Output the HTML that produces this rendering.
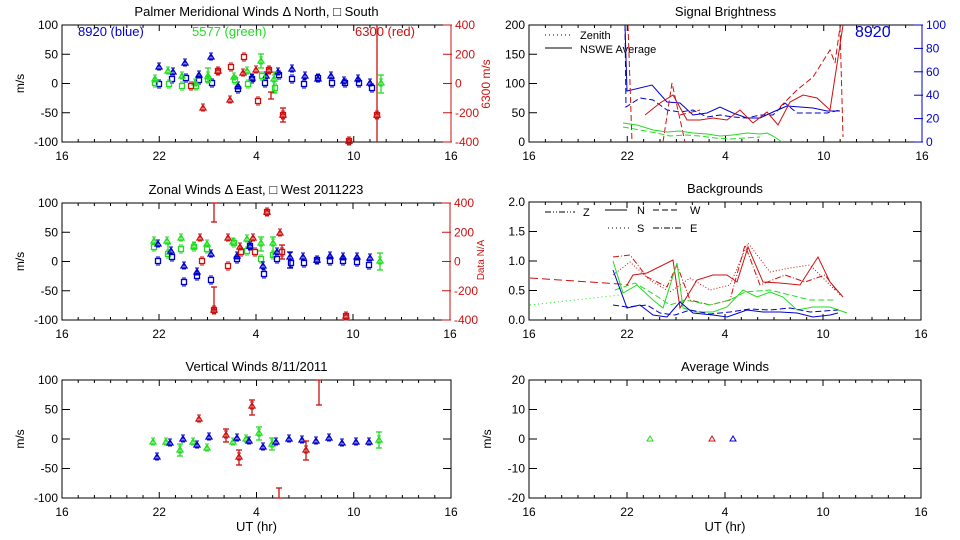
<!DOCTYPE html>
<html><head><meta charset="utf-8"><style>
body{margin:0;background:#fff;}
svg{display:block;font-family:"Liberation Sans",sans-serif;}
</style></head><body>
<svg id="s" width="960" height="540" xmlns="http://www.w3.org/2000/svg"></svg>
<script>
(function(){
var S=document.getElementById('s');var h='';
var B='#0000cc',G='#22dd22',R='#cc1111';
function t(x,y,s,o){o=o||{};h+='<text x="'+x+'" y="'+y+'" font-size="'+(o.fs||12)+'" fill="'+(o.c||'#000')+'" text-anchor="'+(o.a||'middle')+'" '+(o.tr?'transform="'+o.tr+'"':'')+'>'+s+'</text>';}
function L(pts,c,d){h+='<polyline points="'+pts.map(function(p){return p.join(',');}).join(' ')+'" fill="none" stroke="'+c+'" stroke-width="1" '+(d?'stroke-dasharray="'+d+'"':'')+'/>';}
function box(x0,y0,x1,y1,title,yl,ticksL,ticksR,rc,xlab){
 h+='<rect x="'+x0+'" y="'+y0+'" width="'+(x1-x0)+'" height="'+(y1-y0)+'" fill="none" stroke="#000"/>';
 for(var i=0;i<=24;i++){var x=x0+i*(x1-x0)/24,len=i%6==0?6:3;
  h+='<line x1="'+x+'" y1="'+y1+'" x2="'+x+'" y2="'+(y1-len)+'" stroke="#000"/><line x1="'+x+'" y1="'+y0+'" x2="'+x+'" y2="'+(y0+len)+'" stroke="#000"/>';}
 ['16','22','4','10','16'].forEach(function(s,i){t(x0+i*(x1-x0)/4,y1+18,s);});
 t((x0+x1)/2,y0-9,title,{fs:13});
 var n=ticksL.length;
 ticksL.forEach(function(s,i){var y=y0+i*(y1-y0)/(n-1);t(x0-4,y+4,s,{a:'end'});
  h+='<line x1="'+x0+'" y1="'+y+'" x2="'+(x0+8)+'" y2="'+y+'" stroke="#000"/>';
  if(!ticksR)h+='<line x1="'+x1+'" y1="'+y+'" x2="'+(x1-8)+'" y2="'+y+'" stroke="#000"/>';});
 if(ticksR){h+='<line x1="'+x1+'" y1="'+y0+'" x2="'+x1+'" y2="'+y1+'" stroke="'+rc+'"/>';var m=ticksR.length;
  ticksR.forEach(function(s,i){var y=y0+i*(y1-y0)/(m-1);t(x1+4,y+4,s,{a:'start',c:rc});
  h+='<line x1="'+(x1-8)+'" y1="'+y+'" x2="'+(x1+1)+'" y2="'+y+'" stroke="'+rc+'"/>';});}
 if(yl)t(x0-38,(y0+y1)/2,'m/s',{tr:'rotate(-90 '+(x0-38)+' '+((y0+y1)/2)+')'});
 if(xlab)t((x0+x1)/2,y1+33,'UT (hr)',{fs:13});
}
function sq(x,y,c){h+='<rect x="'+(x-2.5)+'" y="'+(y-2.5)+'" width="5" height="5" fill="none" stroke="'+c+'" stroke-width="1.3"/><line x1="'+(x-2)+'" y1="'+(y-4)+'" x2="'+(x+2)+'" y2="'+(y-4)+'" stroke="'+c+'"/><line x1="'+(x-2)+'" y1="'+(y+4)+'" x2="'+(x+2)+'" y2="'+(y+4)+'" stroke="'+c+'"/>';}
function tri(x,y,c){h+='<polygon points="'+x+','+(y-3)+' '+(x-3)+','+(y+2)+' '+(x+3)+','+(y+2)+'" fill="none" stroke="'+c+'" stroke-width="1.3"/><line x1="'+(x-2)+'" y1="'+(y-4)+'" x2="'+(x+2)+'" y2="'+(y-4)+'" stroke="'+c+'"/><line x1="'+(x-2)+'" y1="'+(y+3)+'" x2="'+(x+2)+'" y2="'+(y+3)+'" stroke="'+c+'"/><line x1="'+x+'" y1="'+(y-4)+'" x2="'+x+'" y2="'+(y+3)+'" stroke="'+c+'"/>';}
function P(arr,c){arr.forEach(function(p,i){(i%2?sq:tri)(p[0],p[1],c);});}
function eb(x,y0,y1,c){h+='<line x1="'+x+'" y1="'+y0+'" x2="'+x+'" y2="'+y1+'" stroke="'+c+'" stroke-width="1.3"/><line x1="'+(x-3)+'" y1="'+y0+'" x2="'+(x+3)+'" y2="'+y0+'" stroke="'+c+'" stroke-width="1.3"/><line x1="'+(x-3)+'" y1="'+y1+'" x2="'+(x+3)+'" y2="'+y1+'" stroke="'+c+'" stroke-width="1.3"/>';}
function T(arr,c){arr.forEach(function(p){tri(p[0],p[1],c);});}

// Panel 1
box(62,25,451,142,'Palmer Meridional Winds \u0394 North, \u25A1 South',1,['100','50','0','-50','-100'],['400','200','0','-200','-400'],R);
t(78,36,'8920 (blue)',{a:'start',c:B,fs:13});t(192,36,'5577 (green)',{a:'start',c:G,fs:13});t(355,36,'6300 (red)',{a:'start',c:R,fs:13});
h+='<line x1="377" y1="25" x2="377" y2="142" stroke="'+R+'" stroke-width="1.3"/>';
P([[159,67],[159,84],[173,72],[172,79],[185,63],[186,78],[199,75],[199,80],[211,57],[212,83],[238,86],[238,89],[252,78],[252,79],[266,76],[265,83],[278,72],[279,75],[292,69],[292,79],[305,76],[304,84],[318,79],[318,78],[331,76],[332,83],[344,81],[345,83],[358,79],[359,83],[370,83],[372,88]],B);
P([[155,79],[155,83],[168,71],[169,84],[182,76],[182,86],[195,83],[196,86],[208,76],[208,79],[234,77],[235,80],[247,71],[248,84],[261,61],[262,76],[274,79],[275,88]],G);
eb(261,54,68,G);eb(274,72,93,G);eb(208,68,82,G);eb(381,75,93,G);tri(381,83,G);
P([[203,108],[191,86],[218,71],[218,71],[230,100],[231,67],[243,73],[244,57],[256,70],[258,101],[269,70],[269,70],[283,115],[283,115],[349,141],[349,141],[377,115],[377,115]],R);
eb(283,108,122,R);eb(271,92,99,R);
t(490,84,'6300 m/s',{c:R,tr:'rotate(-90 490 84)'});

// Panel 2
box(529,25,922,142,'Signal Brightness',0,['200','150','100','50','0'],['100','80','60','40','20','0'],B);
t(855,37,'8920',{a:'start',c:B,fs:16});
L([[545,35],[572,35]],'#000','1,3');t(580,39,'Zenith',{a:'start',fs:11});
L([[545,48],[572,48]],'#000');t(580,53,'NSWE Average',{a:'start',fs:11});
h+='<clipPath id="c2"><rect x="529" y="25" width="393" height="117"/></clipPath><g clip-path="url(#c2)">';
L([[625,25],[627,91],[652,85],[667,102],[680,103],[693,115],[707,113],[720,107],[733,113],[747,118],[760,118],[773,112],[787,106],[800,107],[813,108],[827,111],[840,111]],B);
L([[625,25],[626,107],[640,98],[653,100],[667,110],[680,112],[693,110],[707,117],[720,115],[733,117],[747,118],[760,115],[773,115],[785,103],[797,113],[813,113],[827,113],[840,110]],B,'6,3');
L([[628,25],[632,142]],R,'6,3');L([[663,142],[672,83],[685,142]],R,'6,3');
L([[680,115],[700,110]],R,'6,3');
L([[780,107],[797,90],[813,77],[830,50],[835,63],[840,27],[843,137]],R,'6,3');
L([[645,115],[660,103],[673,95],[687,120],[700,120],[713,118],[727,120],[740,110],[753,123],[767,112],[778,125],[790,102],[803,95],[817,98],[830,110],[843,25]],R);
L([[623,123],[637,125],[653,130],[667,132],[680,131],[693,133],[707,134],[720,136],[733,135],[747,133],[760,134],[767,133],[773,136],[782,142]],G);
L([[623,127],[640,130],[657,133],[670,136],[685,135],[700,136],[715,138],[730,139],[745,138],[760,137]],G,'6,3');
h+='</g>';

// Panel 3
box(62,203,450,320,'Zonal Winds \u0394 East, \u25A1 West 2011223',1,['100','50','0','-50','-100'],['400','200','0','-200','-400'],R);
P([[154,241],[154,247],[167,241],[168,254],[181,238],[181,249],[194,246],[194,247],[207,244],[207,249],[233,242],[234,243],[247,239],[247,251],[261,243],[261,259],[273,243],[273,255]],G);
eb(261,237,251,G);eb(273,237,257,G);eb(380,253,270,G);tri(380,261,G);eb(168,244,254,G);
P([[158,244],[158,261],[171,251],[172,257],[184,266],[184,282],[197,272],[197,276],[211,254],[211,280],[237,256],[237,259],[250,246],[250,246],[263,266],[264,274],[277,252],[277,259],[290,257],[291,263],[303,257],[304,263],[317,260],[317,260],[330,256],[330,261],[343,257],[343,261],[357,257],[357,262],[370,258],[369,265]],B);
eb(290,252,268,B);
P([[200,238],[202,261],[214,310],[214,310],[228,238],[228,266],[240,247],[241,252],[253,238],[255,252],[267,212],[267,212],[280,233],[282,252],[346,316],[346,316]],R);
eb(214,203,222,R);eb(214,287,310,R);eb(282,245,259,R);
t(484,260,'Data N/A',{c:R,fs:10,tr:'rotate(-90 484 260)'});

// Panel 4
box(529,202,921,320,'Backgrounds',0,['2.0','1.5','1.0','0.5','0.0'],null);
L([[545,212],[575,212]],'#000','6,2,1,2,1,2');t(583,216,'Z',{a:'start',fs:11});
L([[605,210],[627,210]],'#000');t(637,214,'N',{a:'start',fs:11});
L([[653,210],[680,210]],'#000','6,3');t(690,214,'W',{a:'start',fs:11});
L([[608,228],[630,228]],'#000','1,3');t(637,232,'S',{a:'start',fs:11});
L([[653,228],[683,228]],'#000','6,2,1,2');t(690,232,'E',{a:'start',fs:11});
L([[530,278],[620,284],[628,285]],R,'8,4');
L([[530,305],[620,295]],G,'1,3');
L([[627,285],[633,275],[647,273],[673,260],[680,308],[697,280],[713,275],[727,275],[737,282],[748,247],[763,282],[780,283],[800,285],[818,257],[830,282],[843,297]],R);
L([[613,257],[630,255],[647,277],[667,287],[677,265],[690,300],[710,305],[730,300],[745,245],[760,285],[785,275],[805,282],[825,275],[840,295]],R,'6,2,1,2');
L([[613,275],[630,262],[650,280],[670,292],[690,278],[710,290],[730,285],[748,243],[770,272],[790,268],[810,265],[835,290]],R,'1,2');
L([[613,261],[623,293],[637,285],[653,300],[663,308],[677,263],[683,308],[697,312],[713,312],[727,307],[743,290],[757,297],[770,292],[783,297],[797,310],[813,307],[830,307],[847,313]],G);
L([[615,290],[635,283],[655,295],[670,305],[685,300],[710,305],[730,300],[745,292],[770,290],[790,295],[810,300],[835,300]],G,'6,3');
L([[613,270],[627,308],[640,305],[653,315],[667,317],[680,302],[693,313],[713,315],[727,317],[747,310],[763,312],[780,312],[797,313],[813,317],[830,315],[838,313]],B);
L([[613,305],[627,307],[647,305],[660,313],[675,315],[690,310],[710,314],[730,312],[750,309],[770,310],[790,308],[810,312],[838,310]],B,'6,3');

// Panel 5
box(62,380,451,498,'Vertical Winds 8/11/2011',1,['100','50','0','-50','-100'],null,null,1);
T([[153,442],[166,442],[180,450],[193,442],[207,448],[233,442],[246,439],[259,433],[272,444],[379,440]],G);
eb(259,427,440,G);eb(272,438,450,G);eb(379,432,448,G);eb(180,444,456,G);
T([[157,457],[170,443],[183,439],[197,445],[209,437],[237,438],[249,441],[263,447],[276,442],[289,439],[302,440],[316,441],[329,438],[342,443],[356,442],[369,442]],B);
T([[199,419],[226,435],[239,457],[252,406],[306,450]],R);
eb(226,429,442,R);eb(239,450,465,R);eb(252,400,415,R);eb(306,441,460,R);eb(279,488,498,R);eb(319,380,405,R);

// Panel 6
box(529,380,921,498,'Average Winds',1,['20','10','0','-10','-20'],null,null,1);
h+='<polygon points="650,436 647,441 653,441" fill="none" stroke="'+G+'"/><polygon points="712,436 709,441 715,441" fill="none" stroke="'+R+'"/><polygon points="733,436 730,441 736,441" fill="none" stroke="'+B+'"/>';
S.innerHTML=h;
})();
</script>
</body></html>
